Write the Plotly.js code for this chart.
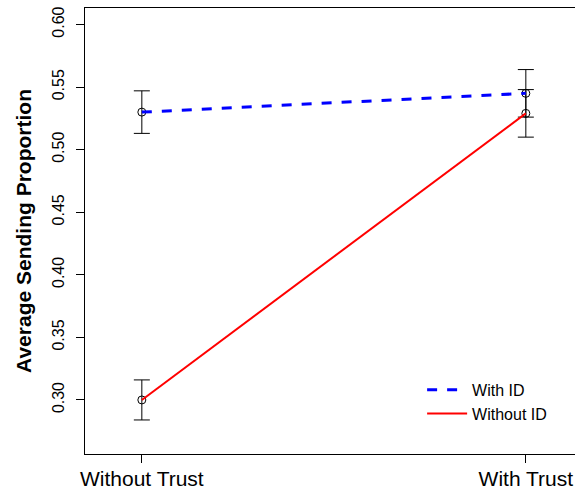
<!DOCTYPE html>
<html><head><meta charset="utf-8">
<script src="https://cdn.plot.ly/plotly-3.0.1.min.js"></script>
<style>html,body{margin:0;padding:0;background:#fff;overflow:hidden}#chart{width:575px;height:488px}</style>
</head><body><div id="chart"></div>
<script>
const conditions = [1, 2];
const conditionLabels = ["Without Trust", "With Trust"];
const withIdMean = [0.530, 0.545];
const withIdErr = [0.017, 0.019];
const withoutIdMean = [0.300, 0.529];
const withoutIdErr = [0.016, 0.019];
const yTicks = [0.30, 0.35, 0.40, 0.45, 0.50, 0.55, 0.60];

const FONT = "Liberation Sans, Arial, Helvetica, sans-serif";

function pointsTrace(y, err) {
  return {
    x: conditions, y: y, type: "scatter", mode: "markers", showlegend: false,
    hoverinfo: "skip",
    marker: {symbol: "circle-open", size: 8, color: "#000", line: {color: "#000", width: 1}},
    error_y: {type: "data", array: err, visible: true, color: "#000", thickness: 1, width: 8}
  };
}

const data = [
  pointsTrace(withIdMean, withIdErr),
  pointsTrace(withoutIdMean, withoutIdErr),
  {x: conditions, y: withIdMean, type: "scatter", mode: "lines", name: "With ID",
   line: {color: "#0000FF", width: 3, dash: "10px,10px"}},
  {x: conditions, y: withoutIdMean, type: "scatter", mode: "lines", name: "Without ID",
   line: {color: "#FF0000", width: 2}}
];

const layout = {
  width: 575, height: 488,
  margin: {l: 85, r: 0, t: 8, b: 34, pad: 0},
  paper_bgcolor: "#fff", plot_bgcolor: "#fff",
  font: {family: FONT, color: "#000"},
  showlegend: true,
  legend: {x: 0.688, y: 0.182, xanchor: "left", yanchor: "top", itemwidth: 40,
           font: {family: FONT, size: 16, color: "#000"}, bgcolor: "rgba(0,0,0,0)", traceorder: "normal"},
  xaxis: {
    range: [0.852, 0.852 + 490 / 384], tickvals: conditions, ticktext: conditionLabels,
    showgrid: false, zeroline: false, showline: true, mirror: true, linecolor: "#000", linewidth: 1,
    ticks: "outside", ticklen: 8, tickcolor: "#000", tickwidth: 1,
    tickfont: {family: FONT, size: 21, color: "#000"}, automargin: false, fixedrange: true,
    ticklabelstandoff: -2
  },
  yaxis: {
    range: [0.2568, 0.6132], tickvals: yTicks, tickformat: ".2f", tickangle: -90,
    showgrid: false, zeroline: false, showline: true, mirror: false, linecolor: "#000", linewidth: 1,
    ticks: "outside", ticklen: 8, tickcolor: "#000", tickwidth: 1,
    tickfont: {family: FONT, size: 16, color: "#000"}, automargin: false, fixedrange: true,
    ticklabelstandoff: 6,
    title: {text: "<b>Average Sending Proportion</b>", font: {family: FONT, size: 21, color: "#000"}, standoff: 12}
  }
};

Plotly.newPlot("chart", data, layout, {staticPlot: true, displayModeBar: false});
</script></body></html>
